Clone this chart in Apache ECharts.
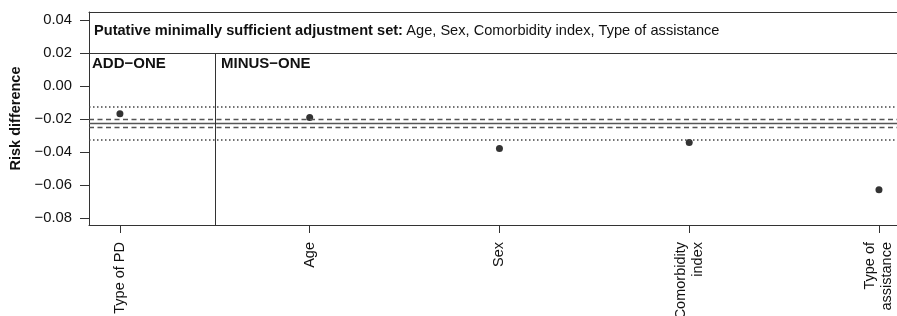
<!DOCTYPE html>
<html>
<head>
<meta charset="utf-8">
<script src="https://cdn.jsdelivr.net/npm/echarts@6/dist/echarts.min.js"></script>
<style>
html,body{margin:0;padding:0;background:#fff;}
#c{width:897px;height:316px;}
</style>
</head>
<body>
<div id="c"></div>
<script>
// ---- data ----
const categories = ['Type of PD', 'Age', 'Sex', 'Comorbidity\nindex', 'Type of\nassistance'];
const categoryPositions = [1, 2, 3, 4, 5];
const riskDiff = [-0.0168, -0.0190, -0.0378, -0.0342, -0.0628];
const estimate = -0.0226;
const innerBand = [-0.0204, -0.0248];   // dashed
const outerBand = [-0.0126, -0.0326];   // dotted
const yTicks = [-0.08, -0.06, -0.04, -0.02, 0.00, 0.02, 0.04];
const headerLevel = 0.02;
const groupDivider = 1.5;
const xRange = [0.837, 5.095];
const yRange = [-0.0842, 0.0449];

const FONT = '"Liberation Sans", Arial, Helvetica, sans-serif';
const chart = echarts.init(document.getElementById('c'), null, {renderer: 'canvas'});

function fmt(v) {
  const s = Math.abs(v).toFixed(2);
  return (v < -1e-9 ? '\u2212' : '') + s;
}

const lineColor = '#333';
const scatterData = categoryPositions.map((x, i) => [x, riskDiff[i]]);

function refSeries(values, style) {
  return {
    type: 'scatter', data: [], silent: true,
    markLine: {
      silent: true, symbol: 'none', label: {show: false}, animation: false, precision: 6,
      lineStyle: style,
      data: values.map(v => ({yAxis: v}))
    }
  };
}

const option = {
  animation: false,
  backgroundColor: '#fff',
  textStyle: {fontFamily: FONT},
  grid: {left: 89, top: 12, right: 0, bottom: 91, show: false, containLabel: false, outerBoundsMode: 'none'},
  xAxis: [{
    type: 'value', min: xRange[0], max: xRange[1], position: 'bottom',
    splitLine: {show: false},
    axisLine: {show: true, onZero: false, lineStyle: {color: lineColor, width: 1}},
    axisTick: {show: true, customValues: categoryPositions, length: 8, lineStyle: {color: lineColor}},
    axisLabel: {
      show: true, customValues: categoryPositions, rotate: 90, margin: 17,
      fontSize: 14.5, color: '#111', fontFamily: FONT, lineHeight: 17,
      formatter: v => {
        const i = categoryPositions.indexOf(Math.round(v));
        return i >= 0 ? categories[i] : '';
      }
    }
  }, {
    type: 'value', min: xRange[0], max: xRange[1], position: 'top',
    splitLine: {show: false},
    axisLine: {show: true, onZero: false, lineStyle: {color: lineColor, width: 1}},
    axisTick: {show: false}, axisLabel: {show: false}
  }],
  yAxis: {
    type: 'value', min: yRange[0], max: yRange[1],
    name: 'Risk difference', nameLocation: 'middle', nameGap: 62,
    nameTextStyle: {fontSize: 14.5, fontWeight: 'bold', color: '#111', fontFamily: FONT},
    splitLine: {show: false},
    axisLine: {show: true, onZero: false, lineStyle: {color: lineColor, width: 1}},
    axisTick: {show: true, customValues: yTicks, length: 9, lineStyle: {color: lineColor}},
    axisLabel: {
      show: true, customValues: yTicks, margin: 17, fontSize: 14.8, color: '#111', fontFamily: FONT,
      formatter: fmt
    }
  },
  series: [
    refSeries([estimate], {type: 'solid', color: '#555', width: 1.4}),
    refSeries(innerBand, {type: [5, 3.5], color: '#555', width: 1.4}),
    refSeries(outerBand, {type: [1.5, 2.5], color: '#444', width: 1.5}),
    {
      type: 'scatter', data: [], silent: true,
      markLine: {
        silent: true, symbol: 'none', label: {show: false}, animation: false, precision: 6,
        lineStyle: {type: 'solid', color: lineColor, width: 1},
        data: [
          {yAxis: headerLevel},
          [{coord: [groupDivider, headerLevel]}, {coord: [groupDivider, yRange[0]]}]
        ]
      }
    },
    {
      type: 'scatter',
      data: scatterData,
      symbol: 'circle', symbolSize: 7,
      itemStyle: {color: '#000'}
    }
  ],
  graphic: [
    {
      type: 'text', left: 94, top: 23,
      style: {
        text: '{b|Putative minimally sufficient adjustment set:} {n|Age, Sex, Comorbidity index, Type of assistance}',
        rich: {
          b: {fontWeight: 'bold', fontSize: 14.6, fontFamily: FONT, fill: '#111'},
          n: {fontSize: 14.6, fontFamily: FONT, fill: '#111'}
        }
      }
    },
    {type: 'text', left: 92, top: 56, style: {text: 'ADD\u2212ONE', fontWeight: 'bold', fontSize: 15, fontFamily: FONT, fill: '#111'}},
    {type: 'text', left: 221, top: 56, style: {text: 'MINUS\u2212ONE', fontWeight: 'bold', fontSize: 15, fontFamily: FONT, fill: '#111'}}
  ]
};
chart.setOption(option);
</script>
</body>
</html>
